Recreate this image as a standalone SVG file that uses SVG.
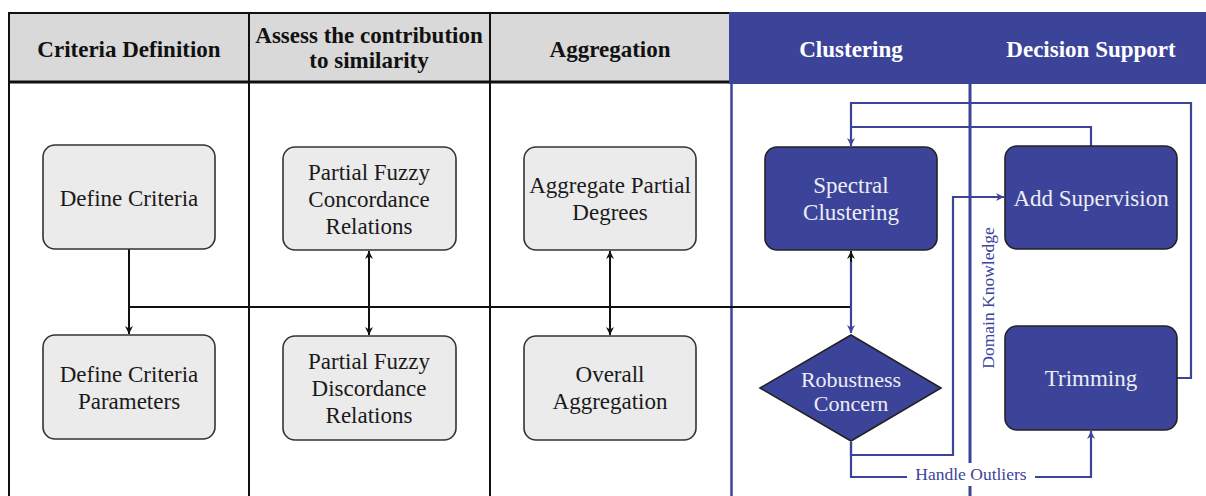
<svg xmlns="http://www.w3.org/2000/svg" width="1206" height="496" viewBox="0 0 1206 496">
  <defs>
    <style>
      .lane { stroke: #111; stroke-width: 2; fill: none; }
      .hdr { font-family: "Liberation Serif", serif; font-weight: bold; font-size: 23px; text-anchor: middle; fill: #111; }
      .hdr-w { fill: #ffffff; }
      .box { fill: #ebebeb; stroke: #333; stroke-width: 1.6; }
      .bbox { fill: #3c4499; stroke: #222; stroke-width: 1.6; }
      .lbl { font-family: "Liberation Serif", serif; font-size: 23px; text-anchor: middle; fill: #1a1a1a; }
      .lbl-w { fill: #ecedf5; }
      .dia { font-size: 22px; }
      .bk { stroke: #111; stroke-width: 2; fill: none; }
      .bl { stroke: #3c4499; stroke-width: 2.2; fill: none; }
      .edge { font-family: "Liberation Serif", serif; font-size: 17.5px; fill: #3c4499; text-anchor: middle; }
    </style>
    <marker id="ah-k" viewBox="0 0 10 10" refX="10" refY="5" markerWidth="8" markerHeight="8" markerUnits="userSpaceOnUse" orient="auto-start-reverse">
      <path d="M0,0 L10,5 L0,10 L3,5 z" fill="#111"/>
    </marker>
    <marker id="ah-b" viewBox="0 0 10 10" refX="10" refY="5" markerWidth="8" markerHeight="8" markerUnits="userSpaceOnUse" orient="auto-start-reverse">
      <path d="M0,0 L10,5 L0,10 L3,5 z" fill="#3c4499"/>
    </marker>
  </defs>

  <rect width="1206" height="496" fill="#ffffff"/>

  <!-- swimlane frame -->
  <g id="lanes">
    <rect x="8" y="13" width="722" height="70" fill="#d9d9d9"/>
    <line class="lane" x1="8" y1="13" x2="730" y2="13"/>
    <line x1="8" y1="82" x2="730" y2="82" stroke="#111" stroke-width="3"/>
    <line class="lane" x1="9" y1="13" x2="9" y2="496"/>
    <line class="lane" x1="249" y1="13" x2="249" y2="496"/>
    <line class="lane" x1="490" y1="13" x2="490" y2="496"/>
    <rect x="729" y="12" width="477" height="72" fill="#3c4499"/>
    <line x1="731.5" y1="84" x2="731.5" y2="496" stroke="#3c4499" stroke-width="2.5"/>
    <line x1="970" y1="84" x2="970" y2="496" stroke="#3c4499" stroke-width="3"/>
    <text class="hdr" x="129" y="57">Criteria Definition</text>
    <text class="hdr" x="369" y="43">Assess the contribution</text>
    <text class="hdr" x="369" y="68">to similarity</text>
    <text class="hdr" x="610" y="57">Aggregation</text>
    <text class="hdr hdr-w" x="851" y="57">Clustering</text>
    <text class="hdr hdr-w" x="1091" y="57">Decision Support</text>
  </g>

  <!-- connectors -->
  <g id="connectors">
    <path class="bk" d="M129,249 V334" marker-end="url(#ah-k)"/>
    <path class="bk" d="M129,307 H851"/>
    <path class="bk" d="M369,251 V335" marker-start="url(#ah-k)" marker-end="url(#ah-k)"/>
    <path class="bk" d="M610,251 V335" marker-start="url(#ah-k)" marker-end="url(#ah-k)"/>
    <path class="bl" d="M851,258 V333" marker-end="url(#ah-b)"/>
    <path class="bk" d="M851,251 V262" marker-start="url(#ah-k)"/>
    <path class="bl" d="M1091,146 V127 H851 V146" marker-end="url(#ah-b)"/>
    <path class="bl" d="M1177,378 H1191 V103 H851 V127"/>
    <path class="bl" d="M851,442 V455 H953 V197 H1004" marker-end="url(#ah-b)"/>
    <path class="bl" d="M851,442 V477 H1091 V431" marker-end="url(#ah-b)"/>
    <rect x="907" y="463" width="128" height="23" fill="#ffffff"/>
    <text class="edge" x="971" y="480">Handle Outliers</text>
    <text class="edge" x="0" y="0" font-size="16.5" transform="translate(994,298) rotate(-90)">Domain Knowledge</text>
  </g>

  <g id="define-criteria">
    <rect class="box" x="43" y="145" width="172" height="104" rx="12"/>
    <text class="lbl" x="129" y="206">Define Criteria</text>
  </g>
  <g id="define-criteria-parameters">
    <rect class="box" x="43" y="335" width="172" height="104" rx="12"/>
    <text class="lbl" x="129" y="382">Define Criteria</text>
    <text class="lbl" x="129" y="409">Parameters</text>
  </g>
  <g id="concordance">
    <rect class="box" x="283" y="147" width="173" height="103" rx="12"/>
    <text class="lbl" x="369" y="180">Partial Fuzzy</text>
    <text class="lbl" x="369" y="207">Concordance</text>
    <text class="lbl" x="369" y="234">Relations</text>
  </g>
  <g id="discordance">
    <rect class="box" x="283" y="336" width="173" height="104" rx="12"/>
    <text class="lbl" x="369" y="369">Partial Fuzzy</text>
    <text class="lbl" x="369" y="396">Discordance</text>
    <text class="lbl" x="369" y="423">Relations</text>
  </g>
  <g id="aggregate-partial">
    <rect class="box" x="524" y="147" width="172" height="103" rx="12"/>
    <text class="lbl" x="610" y="193">Aggregate Partial</text>
    <text class="lbl" x="610" y="220">Degrees</text>
  </g>
  <g id="overall-aggregation">
    <rect class="box" x="524" y="336" width="172" height="104" rx="12"/>
    <text class="lbl" x="610" y="382">Overall</text>
    <text class="lbl" x="610" y="409">Aggregation</text>
  </g>
  <g id="spectral-clustering">
    <rect class="bbox" x="765" y="147" width="172" height="103" rx="12"/>
    <text class="lbl lbl-w" x="851" y="193">Spectral</text>
    <text class="lbl lbl-w" x="851" y="220">Clustering</text>
  </g>
  <g id="robustness-concern">
    <polygon class="bbox" points="851,335 941,388 851,441 760,388"/>
    <text class="lbl lbl-w dia" x="851" y="387">Robustness</text>
    <text class="lbl lbl-w dia" x="851" y="411">Concern</text>
  </g>
  <g id="add-supervision">
    <rect class="bbox" x="1005" y="146" width="172" height="103" rx="12"/>
    <text class="lbl lbl-w" x="1091" y="206">Add Supervision</text>
  </g>
  <g id="trimming">
    <rect class="bbox" x="1005" y="326" width="172" height="104" rx="12"/>
    <text class="lbl lbl-w" x="1091" y="386">Trimming</text>
  </g>
</svg>
